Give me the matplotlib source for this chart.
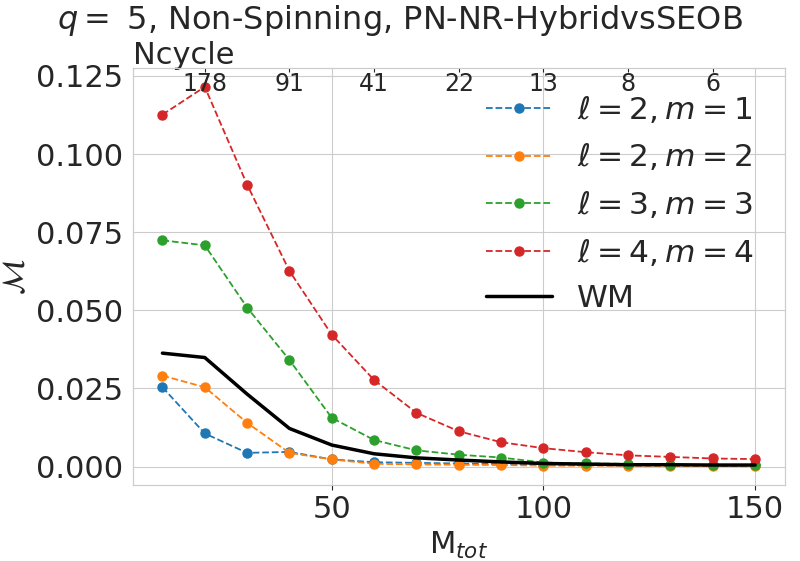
import matplotlib

matplotlib.use("Agg")

import matplotlib.pyplot as plt
import seaborn as sns


m_tot = [10, 20, 30, 40, 50, 60, 70, 80, 90, 100, 110, 120, 130, 140, 150]

mismatch_21 = [0.0254, 0.0106, 0.0044, 0.0047, 0.0023, 0.0014, 0.0012, 0.0010,
               0.0008, 0.0006, 0.0005, 0.0005, 0.0004, 0.0004, 0.0004]
mismatch_22 = [0.0291, 0.0254, 0.0140, 0.0044, 0.0023, 0.0009, 0.0007, 0.0006,
               0.0005, 0.0003, 0.0003, 0.0003, 0.0002, 0.0002, 0.0001]
mismatch_33 = [0.0724, 0.0708, 0.0509, 0.0341, 0.0156, 0.0085, 0.0052, 0.0038,
               0.0029, 0.0013, 0.0010, 0.0009, 0.0006, 0.0005, 0.0005]
mismatch_44 = [0.1126, 0.1215, 0.0902, 0.0626, 0.0422, 0.0277, 0.0172, 0.0113,
               0.0078, 0.0059, 0.0046, 0.0036, 0.0031, 0.0026, 0.0024]
mismatch_wm = [0.0363, 0.0349, 0.0232, 0.0122, 0.0069, 0.0041, 0.0028, 0.0021,
               0.0015, 0.0010, 0.0008, 0.0006, 0.0006, 0.0005, 0.0005]

m_tot_ticks = [50, 100, 150]
ncycle_pos = [20, 40, 60, 80, 100, 120, 140]
ncycle_labels = ["178", "91", "41", "22", "13", "8", "6"]

modes = [
    (r"$\ell=2, m=1$", mismatch_21),
    (r"$\ell=2, m=2$", mismatch_22),
    (r"$\ell=3, m=3$", mismatch_33),
    (r"$\ell=4, m=4$", mismatch_44),
]


def main() -> None:
    sns.set_style("whitegrid")
    plt.rcParams["font.family"] = ["DejaVu Sans"]

    fig, ax = plt.subplots(figsize=(8.0, 5.61), dpi=100)
    fig.subplots_adjust(left=0.166, right=0.981, bottom=0.135, top=0.879)

    for label, values in modes:
        ax.plot(m_tot, values, "o--", lw=1.3, ms=6.5, label=label)
    ax.plot(m_tot, mismatch_wm, color="black", lw=2.5, label="WM")

    ax.set_xticks(m_tot_ticks)
    ax.set_xlabel(r"M$_{tot}$", fontsize=22)
    ax.set_ylabel(r"$\mathcal{M}$", fontsize=22)
    ax.tick_params(labelsize=22)
    ax.legend(fontsize=22.5, frameon=False, loc="upper right",
              bbox_to_anchor=(0.995, 1.005), handlelength=2.1,
              labelspacing=0.53)

    top = ax.twiny()
    top.set_xlim(ax.get_xlim())
    top.set_xticks(ncycle_pos)
    top.set_xticklabels(ncycle_labels)
    top.grid(False)
    top.tick_params(axis="x", direction="in", length=3, width=0.8, pad=-20,
                    labelsize=17, colors=".15")
    top.set_xlabel("Ncycle", fontsize=22, loc="left", labelpad=3)

    fig.suptitle(r"$q=$ 5, Non-Spinning, PN-NR-HybridvsSEOB", fontsize=23,
                 x=0.5, y=0.995, va="top")

    fig.savefig("out.png", dpi=100)
    plt.close(fig)


if __name__ == "__main__":
    main()
